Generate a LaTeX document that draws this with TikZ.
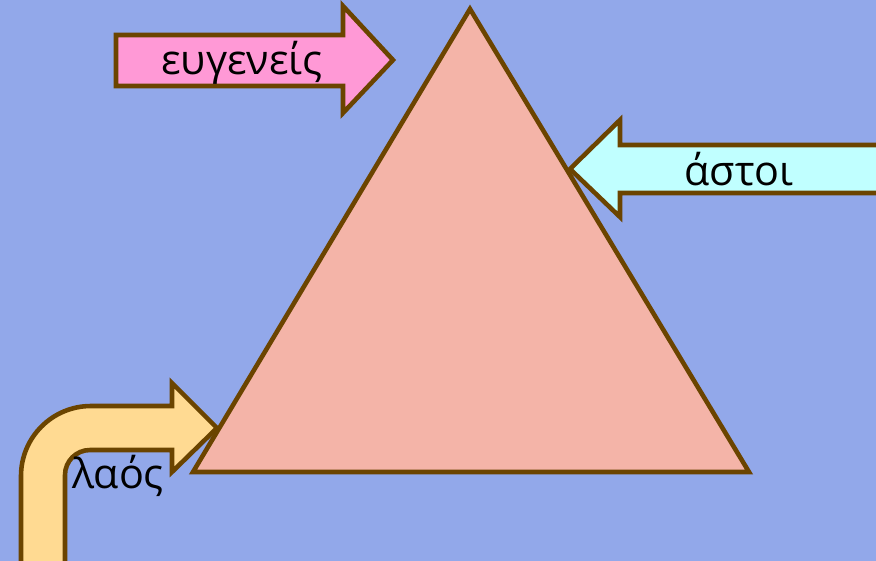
\documentclass[tikz,border=0pt]{standalone}
\usepackage{fontspec}
\setmainfont{Open Sans}
\usetikzlibrary{positioning}
\definecolor{fond}{HTML}{92A8EA}
\definecolor{brun}{HTML}{6B4400}
\definecolor{saumon}{HTML}{F4B4A8}
\definecolor{rose}{HTML}{FF99D6}
\definecolor{glace}{HTML}{C0FFFF}
\definecolor{paille}{HTML}{FFDA92}
\tikzset{
  bloc/.style={draw=brun, line width=2.6pt, fill=#1, line join=miter},
  etiq/.style={font=\fontsize{23.5}{28}\selectfont, inner sep=0pt, anchor=base},
}

\begin{document}
\begin{tikzpicture}[x=0.02cm, y=-0.02cm]
  \fill[fond] (0,0) rectangle (876,561);
  \useasboundingbox (0,0) rectangle (876,561);
  \clip (0,0) rectangle (876,561);
  % la pyramide
  \draw[bloc=saumon] (470,9) -- (749,472) -- (193,472) -- cycle;
  % les trois flèches
  \draw[bloc=rose] (116,35) -- (343,35) -- (343,6) -- (393,60) -- (343,113) -- (343,86) -- (116,86) -- cycle;
  \draw[bloc=glace] (890,145) -- (620,145) -- (620,120) -- (570,169) -- (620,217) -- (620,193) -- (890,193) -- cycle;
  \draw[bloc=paille] (21,575) [rounded corners=1.4cm] -- (21,406) [sharp corners] -- (172,406) -- (172,383) -- (217,428) -- (172,472) -- (172,450) [rounded corners=0.5cm] -- (65,450) [sharp corners] -- (65,575) -- cycle;
  \node[etiq] (eugeneis) at (242,74) {ευγενείς};
  \node[etiq] (astoi) at (739,185) {άστοι};
  \node[etiq] (laos) at (118,488) {λαός};
\end{tikzpicture}
\end{document}
